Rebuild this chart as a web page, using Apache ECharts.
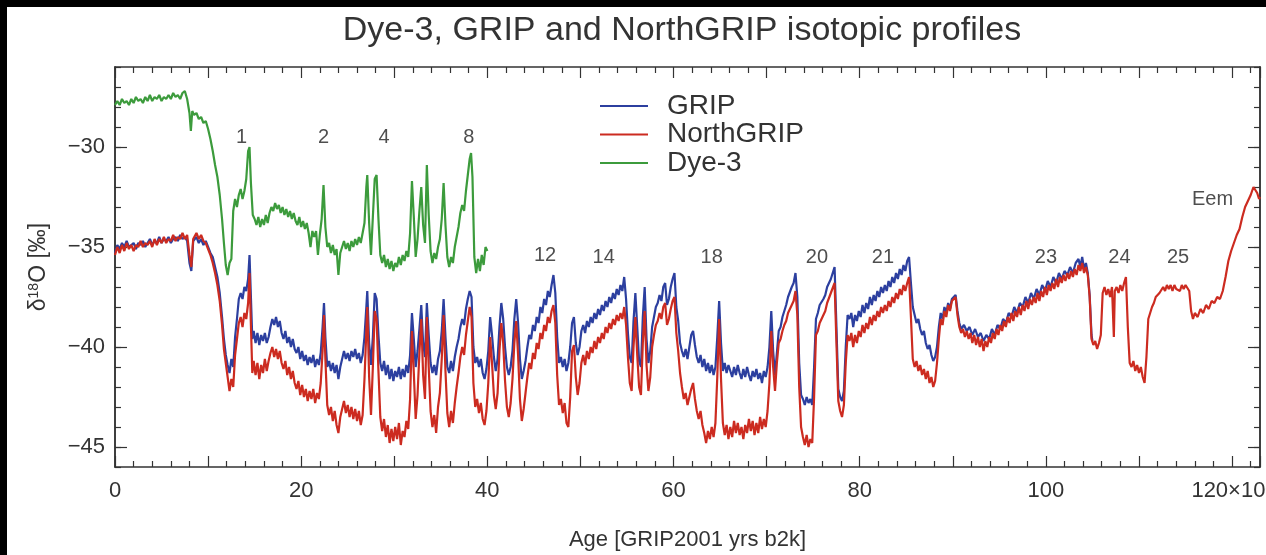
<!DOCTYPE html>
<html>
<head>
<meta charset="utf-8">
<script src="https://cdn.jsdelivr.net/npm/echarts@6/dist/echarts.min.js"></script>
<style>
html,body{margin:0;padding:0;background:#000;width:1266px;height:555px;overflow:hidden}
#c{position:absolute;left:7px;top:7px;width:1259px;height:548px;background:#fff}
</style>
</head>
<body>
<div id="c"></div>
<script>
// ---- DATA (age in kyr b2k, d18O in permil) ----
const gripData = [
[0,-35.3],[0.25,-34.9],[0.5,-35.1],[0.75,-34.8],[1,-35.0],[1.25,-34.7],[1.5,-35.0],[1.75,-34.9],[2,-34.8],[2.25,-35.1],
[2.5,-34.8],[2.75,-34.9],[3,-34.7],[3.25,-35.0],[3.5,-34.8],[3.75,-34.6],[4,-34.9],[4.25,-34.7],[4.5,-34.8],[4.75,-34.5],
[5,-34.8],[5.25,-34.6],[5.5,-34.7],[5.75,-34.5],[6,-34.8],[6.25,-34.6],[6.5,-34.5],[6.75,-34.7],[7,-34.4],[7.25,-34.6],
[7.5,-34.5],[7.75,-34.7],[8.0,-35.8],[8.2,-36.2],[8.4,-34.7],[8.75,-34.5],[9,-34.8],[9.25,-34.6],[9.5,-34.9],[9.75,-34.7],
[10,-35.0],[10.25,-35.3],[10.5,-35.5],[10.75,-36.0],[11,-36.5],[11.25,-37.3],[11.5,-38.5],[11.7,-39.6],[11.9,-40.4],[12.1,-40.9],
[12.3,-41.3],[12.5,-40.6],[12.7,-41.0],[12.9,-39.5],[13.1,-38.6],[13.3,-37.6],[13.5,-37.3],[13.7,-37.6],[13.9,-37.0],[14.1,-37.2],
[14.3,-36.6],[14.45,-35.4],[14.6,-37.5],[14.75,-39.6],[14.9,-39.2],[15.1,-39.8],[15.3,-39.3],[15.5,-39.9],[15.7,-39.4],[15.9,-39.7],
[16.1,-39.3],[16.3,-39.8],[16.5,-39.5],[16.7,-39.0],[16.9,-38.6],[17.1,-38.9],[17.3,-38.5],[17.5,-39.0],[17.7,-38.7],[17.9,-39.3],
[18.1,-39.6],[18.3,-39.2],[18.5,-39.8],[18.7,-39.5],[18.9,-40.0],[19.1,-39.6],[19.3,-40.1],[19.5,-40.3],[19.7,-40.0],[19.9,-40.6],
[20.1,-40.2],[20.3,-40.7],[20.5,-40.4],[20.7,-40.9],[20.9,-40.5],[21.1,-40.8],[21.3,-40.4],[21.5,-41.0],[21.7,-40.6],[21.9,-40.9],
[22.1,-40.3],[22.3,-39.0],[22.45,-37.8],[22.6,-39.5],[22.8,-41.0],[23.0,-40.7],[23.2,-41.2],[23.4,-40.8],[23.6,-41.3],[23.8,-40.9],
[24.0,-41.6],[24.2,-41.0],[24.4,-40.6],[24.6,-40.2],[24.8,-40.6],[25.0,-40.3],[25.2,-40.7],[25.4,-40.2],[25.6,-40.5],[25.8,-40.1],
[26.0,-40.6],[26.2,-40.3],[26.4,-40.8],[26.6,-40.4],[26.8,-39.5],[27.0,-38.0],[27.1,-37.2],[27.3,-39.8],[27.5,-40.9],[27.7,-39.5],
[27.9,-37.3],[28.1,-37.6],[28.3,-39.4],[28.5,-40.8],[28.7,-41.2],[28.9,-40.7],[29.1,-41.4],[29.3,-40.9],[29.5,-41.6],[29.7,-41.1],
[29.9,-41.7],[30.1,-41.2],[30.3,-41.5],[30.5,-41.0],[30.7,-41.6],[30.9,-41.1],[31.1,-41.5],[31.3,-40.9],[31.5,-41.3],[31.7,-40.4],
[31.9,-38.3],[32.1,-39.6],[32.3,-41.0],[32.5,-40.2],[32.7,-39.1],[32.9,-37.9],[33.1,-39.8],[33.3,-40.5],[33.5,-37.8],[33.7,-39.4],
[33.9,-40.8],[34.1,-41.3],[34.3,-40.9],[34.5,-41.4],[34.7,-40.6],[34.9,-40.2],[35.1,-39.2],[35.3,-37.6],[35.5,-39.5],[35.7,-41.0],
[35.9,-41.3],[36.1,-40.7],[36.3,-41.2],[36.5,-40.5],[36.7,-40.0],[36.9,-39.6],[37.1,-39.0],[37.3,-38.6],[37.5,-38.9],[37.7,-38.1],
[37.9,-37.6],[38.1,-37.2],[38.3,-37.5],[38.5,-40.0],[38.7,-40.8],[38.9,-40.5],[39.1,-41.0],[39.3,-40.6],[39.5,-41.3],[39.7,-41.6],
[39.9,-41.1],[40.1,-40.2],[40.3,-38.5],[40.5,-39.4],[40.7,-40.5],[40.9,-41.2],[41.1,-40.6],[41.3,-39.0],[41.5,-37.8],[41.7,-38.6],
[41.9,-40.0],[42.1,-41.0],[42.3,-41.4],[42.5,-41.0],[42.7,-40.2],[42.9,-38.6],[43.1,-37.6],[43.3,-38.8],[43.5,-40.6],[43.7,-41.6],
[43.9,-41.2],[44.1,-40.7],[44.3,-40.0],[44.5,-39.4],[44.7,-39.6],[44.9,-38.9],[45.1,-39.2],[45.3,-38.5],[45.5,-38.8],[45.7,-38.0],
[45.9,-38.3],[46.1,-37.6],[46.3,-37.9],[46.5,-37.2],[46.7,-37.5],[46.9,-36.9],[47.1,-36.4],[47.3,-37.3],[47.5,-39.5],[47.7,-40.8],
[47.9,-40.5],[48.1,-41.0],[48.3,-40.6],[48.5,-41.2],[48.7,-40.8],[48.9,-40.0],[49.1,-38.8],[49.3,-38.5],[49.5,-39.8],[49.7,-40.4],
[49.9,-40.0],[50.1,-39.2],[50.3,-38.9],[50.5,-39.3],[50.7,-38.7],[50.9,-39.0],[51.1,-38.5],[51.3,-38.8],[51.5,-38.3],[51.7,-38.6],
[51.9,-38.1],[52.1,-38.4],[52.3,-37.9],[52.5,-38.2],[52.7,-37.7],[52.9,-38.0],[53.1,-37.5],[53.3,-37.8],[53.5,-37.3],[53.7,-37.6],
[53.9,-37.1],[54.1,-37.4],[54.3,-36.9],[54.5,-37.2],[54.7,-36.5],[54.9,-37.6],[55.1,-39.3],[55.3,-40.5],[55.5,-40.8],[55.7,-38.7],
[55.9,-37.3],[56.1,-39.0],[56.3,-40.7],[56.5,-41.0],[56.7,-38.5],[56.9,-37.0],[57.1,-39.6],[57.3,-40.8],[57.5,-40.2],[57.7,-39.0],
[57.9,-38.5],[58.1,-38.0],[58.3,-37.8],[58.5,-37.4],[58.7,-37.7],[58.9,-37.0],[59.1,-36.8],[59.3,-37.9],[59.5,-37.6],[59.7,-37.0],
[59.9,-36.6],[60.1,-36.3],[60.3,-38.0],[60.5,-38.7],[60.7,-39.8],[60.9,-40.2],[61.1,-40.5],[61.3,-40.1],[61.5,-40.6],[61.7,-40.0],
[61.9,-39.4],[62.1,-39.2],[62.3,-39.9],[62.5,-40.5],[62.7,-40.8],[62.9,-40.4],[63.1,-41.0],[63.3,-40.6],[63.5,-41.2],[63.7,-40.8],
[63.9,-41.3],[64.1,-40.9],[64.3,-41.4],[64.5,-41.0],[64.7,-39.5],[64.9,-37.7],[65.1,-39.8],[65.3,-41.2],[65.5,-40.8],[65.7,-41.3],
[65.9,-40.9],[66.1,-41.2],[66.3,-41.5],[66.5,-41.0],[66.7,-41.4],[66.9,-40.9],[67.1,-41.3],[67.3,-41.6],[67.5,-41.1],[67.7,-41.5],
[67.9,-41.0],[68.1,-41.4],[68.3,-41.7],[68.5,-41.2],[68.7,-41.5],[68.9,-41.1],[69.1,-41.6],[69.3,-41.3],[69.5,-41.8],[69.7,-41.2],
[69.9,-41.5],[70.1,-41.0],[70.3,-40.0],[70.5,-38.2],[70.7,-40.2],[70.9,-41.4],[71.1,-40.3],[71.3,-39.2],[71.5,-39.0],[71.7,-38.5],
[71.9,-38.2],[72.1,-37.9],[72.3,-37.5],[72.5,-37.6],[72.7,-37.0],[72.9,-36.8],[73.1,-36.3],[73.3,-37.5],[73.5,-40.8],[73.7,-42.4],
[73.9,-42.6],[74.1,-42.9],[74.3,-42.5],[74.5,-42.8],[74.7,-42.6],[74.9,-42.9],[75.1,-41.0],[75.3,-38.6],[75.5,-38.3],[75.7,-37.9],
[75.9,-38.0],[76.1,-37.6],[76.3,-37.4],[76.5,-37.0],[76.7,-36.9],[76.9,-36.6],[77.1,-36.5],[77.3,-36.0],[77.5,-39.0],[77.7,-42.1],
[77.9,-42.5],[78.1,-42.7],[78.3,-42.2],[78.5,-40.0],[78.7,-38.4],[78.9,-38.6],[79.1,-38.3],[79.3,-39.0],[79.5,-38.4],[79.7,-38.7],
[79.9,-38.2],[80.1,-38.5],[80.3,-37.9],[80.5,-38.3],[80.7,-37.8],[80.9,-38.1],[81.1,-37.5],[81.3,-37.9],[81.5,-37.4],[81.7,-37.7],
[81.9,-37.2],[82.1,-37.5],[82.3,-37.0],[82.5,-37.3],[82.7,-36.9],[82.9,-37.2],[83.1,-36.7],[83.3,-37.0],[83.5,-36.5],[83.7,-36.8],
[83.9,-36.3],[84.1,-36.6],[84.3,-36.1],[84.5,-36.4],[84.7,-35.9],[84.9,-36.2],[85.1,-35.7],[85.3,-35.5],[85.5,-36.8],[85.7,-38.0],
[85.9,-38.4],[86.1,-38.8],[86.3,-38.6],[86.5,-39.1],[86.7,-39.4],[86.9,-39.2],[87.1,-39.8],[87.3,-40.1],[87.5,-39.9],[87.7,-40.4],
[87.9,-40.7],[88.1,-40.5],[88.3,-40.0],[88.5,-39.0],[88.7,-38.3],[88.9,-38.6],[89.1,-38.0],[89.3,-38.3],[89.5,-37.8],[89.7,-38.1],
[89.9,-37.6],[90.1,-37.5],[90.3,-37.4],[90.5,-38.2],[90.7,-38.8],[90.9,-39.1],[91.2,-38.9],[91.5,-39.2],[91.8,-39.0],[92.1,-39.4],
[92.4,-39.1],[92.7,-39.5],[93.0,-39.3],[93.3,-39.7],[93.6,-39.4],[93.9,-39.6],[94.2,-39.1],[94.5,-39.4],[94.8,-38.9],[95.1,-39.1],
[95.4,-38.6],[95.7,-38.8],[96.0,-38.3],[96.3,-38.5],[96.6,-38.0],[96.9,-38.3],[97.2,-37.8],[97.5,-38.0],[97.8,-37.5],[98.1,-37.8],
[98.4,-37.3],[98.7,-37.6],[99.0,-37.1],[99.3,-37.4],[99.6,-36.9],[99.9,-37.2],[100.2,-36.7],[100.5,-37.0],[100.8,-36.5],[101.1,-36.8],
[101.4,-36.3],[101.7,-36.6],[102.0,-36.2],[102.3,-36.4],[102.6,-36.0],[102.9,-36.3],[103.2,-35.8],[103.5,-35.6],[103.7,-36.0],[103.9,-35.5],
[104.1,-36.1],[104.3,-35.8],[104.5,-36.3],[104.7,-37.4],[104.9,-39.4],[105.0,-39.7]
];

const ngripData = [
[0,-35.4],[0.25,-35.0],[0.5,-35.3],[0.75,-34.9],[1,-35.2],[1.25,-34.8],[1.5,-35.1],[1.75,-34.9],[2,-35.2],[2.25,-34.9],
[2.5,-35.0],[2.75,-34.7],[3,-35.0],[3.25,-34.8],[3.5,-34.9],[3.75,-34.7],[4,-35.0],[4.25,-34.6],[4.5,-34.9],[4.75,-34.6],
[5,-34.8],[5.25,-34.5],[5.5,-34.8],[5.75,-34.6],[6,-34.7],[6.25,-34.4],[6.5,-34.7],[6.75,-34.5],[7,-34.6],[7.25,-34.3],
[7.5,-34.6],[7.75,-34.4],[8.0,-35.4],[8.2,-36.0],[8.4,-34.6],[8.75,-34.3],[9,-34.6],[9.25,-34.4],[9.5,-34.7],[9.75,-34.8],
[10,-35.1],[10.25,-35.4],[10.5,-35.8],[10.75,-36.3],[11,-36.9],[11.25,-37.7],[11.5,-38.9],[11.7,-40.1],[11.9,-40.8],[12.1,-41.5],
[12.3,-42.2],[12.5,-41.6],[12.7,-42.0],[12.9,-40.4],[13.1,-39.6],[13.3,-38.8],[13.5,-38.5],[13.7,-39.0],[13.9,-38.3],[14.1,-38.6],
[14.3,-37.8],[14.45,-36.3],[14.6,-38.9],[14.75,-41.3],[14.9,-40.7],[15.1,-41.4],[15.3,-40.8],[15.5,-41.6],[15.7,-40.9],[15.9,-41.3],
[16.1,-40.6],[16.3,-41.2],[16.5,-40.7],[16.7,-40.3],[16.9,-40.0],[17.1,-40.5],[17.3,-40.1],[17.5,-40.6],[17.7,-40.2],[17.9,-40.8],
[18.1,-41.1],[18.3,-40.7],[18.5,-41.4],[18.7,-41.0],[18.9,-41.6],[19.1,-41.2],[19.3,-41.8],[19.5,-42.1],[19.7,-41.7],[19.9,-42.4],
[20.1,-41.9],[20.3,-42.5],[20.5,-42.1],[20.7,-42.7],[20.9,-42.2],[21.1,-42.6],[21.3,-42.1],[21.5,-42.8],[21.7,-42.3],[21.9,-42.6],
[22.1,-41.8],[22.3,-40.2],[22.45,-38.4],[22.6,-40.6],[22.8,-42.9],[23.0,-43.4],[23.2,-43.0],[23.4,-43.7],[23.6,-43.2],[23.8,-43.9],
[24.0,-44.3],[24.2,-43.5],[24.4,-43.1],[24.6,-42.7],[24.8,-43.3],[25.0,-42.9],[25.2,-43.5],[25.4,-43.0],[25.6,-43.6],[25.8,-43.1],
[26.0,-43.7],[26.2,-43.2],[26.4,-43.9],[26.6,-43.4],[26.8,-41.6],[27.0,-39.2],[27.1,-38.0],[27.3,-41.5],[27.5,-43.4],[27.7,-41.0],
[27.9,-38.2],[28.1,-38.6],[28.3,-41.2],[28.5,-43.5],[28.7,-44.2],[28.9,-43.6],[29.1,-44.5],[29.3,-43.9],[29.5,-44.8],[29.7,-44.1],
[29.9,-44.7],[30.1,-44.0],[30.3,-44.6],[30.5,-43.8],[30.7,-44.9],[30.9,-44.2],[31.1,-44.5],[31.3,-43.7],[31.5,-44.1],[31.7,-42.6],
[31.9,-39.2],[32.1,-41.3],[32.3,-43.6],[32.5,-42.4],[32.7,-40.3],[32.9,-38.6],[33.1,-41.4],[33.3,-42.6],[33.5,-38.5],[33.7,-41.0],
[33.9,-43.2],[34.1,-44.0],[34.3,-43.4],[34.5,-44.3],[34.7,-43.0],[34.9,-42.3],[35.1,-40.6],[35.3,-38.4],[35.5,-41.2],[35.7,-43.3],
[35.9,-44.0],[36.1,-43.2],[36.3,-43.8],[36.5,-42.8],[36.7,-42.0],[36.9,-41.3],[37.1,-40.5],[37.3,-40.0],[37.5,-40.4],[37.7,-39.4],
[37.9,-38.7],[38.1,-38.0],[38.3,-38.5],[38.5,-41.8],[38.7,-43.0],[38.9,-42.6],[39.1,-43.3],[39.3,-42.8],[39.5,-43.6],[39.7,-43.9],
[39.9,-43.2],[40.1,-41.8],[40.3,-39.5],[40.5,-40.8],[40.7,-42.4],[40.9,-43.1],[41.1,-42.3],[41.3,-40.2],[41.5,-38.8],[41.7,-39.8],
[41.9,-41.7],[42.1,-43.0],[42.3,-43.5],[42.5,-42.8],[42.7,-41.6],[42.9,-39.8],[43.1,-38.7],[43.3,-40.4],[43.5,-42.6],[43.7,-43.7],
[43.9,-43.1],[44.1,-42.3],[44.3,-41.5],[44.5,-40.8],[44.7,-41.1],[44.9,-40.3],[45.1,-40.6],[45.3,-39.8],[45.5,-40.1],[45.7,-39.3],
[45.9,-39.6],[46.1,-38.9],[46.3,-39.2],[46.5,-38.5],[46.7,-38.8],[46.9,-38.2],[47.1,-37.9],[47.3,-38.8],[47.5,-41.4],[47.7,-42.9],
[47.9,-42.6],[48.1,-43.3],[48.3,-42.8],[48.5,-43.8],[48.7,-44.0],[48.9,-42.5],[49.1,-40.2],[49.3,-39.9],[49.5,-41.5],[49.7,-42.4],
[49.9,-41.8],[50.1,-40.8],[50.3,-40.4],[50.5,-40.9],[50.7,-40.2],[50.9,-40.6],[51.1,-40.0],[51.3,-40.3],[51.5,-39.7],[51.7,-40.1],
[51.9,-39.5],[52.1,-39.8],[52.3,-39.3],[52.5,-39.6],[52.7,-39.0],[52.9,-39.3],[53.1,-38.8],[53.3,-39.1],[53.5,-38.6],[53.7,-38.9],
[53.9,-38.4],[54.1,-38.7],[54.3,-38.3],[54.5,-38.6],[54.7,-38.0],[54.9,-38.9],[55.1,-40.5],[55.3,-41.8],[55.5,-42.2],[55.7,-40.0],
[55.9,-38.5],[56.1,-40.4],[56.3,-42.0],[56.5,-42.4],[56.7,-39.8],[56.9,-38.2],[57.1,-40.9],[57.3,-42.2],[57.5,-41.5],[57.7,-40.0],
[57.9,-39.4],[58.1,-38.9],[58.3,-38.7],[58.5,-38.3],[58.7,-38.6],[58.9,-38.0],[59.1,-37.8],[59.3,-38.9],[59.5,-38.6],[59.7,-38.1],
[59.9,-37.7],[60.1,-37.5],[60.3,-39.3],[60.5,-40.2],[60.7,-41.3],[60.9,-42.0],[61.1,-42.6],[61.3,-42.3],[61.5,-42.9],[61.7,-42.5],
[61.9,-42.1],[62.1,-41.8],[62.3,-42.6],[62.5,-43.2],[62.7,-43.6],[62.9,-43.2],[63.1,-43.9],[63.3,-44.3],[63.5,-44.8],[63.7,-44.2],
[63.9,-44.6],[64.1,-44.0],[64.3,-44.5],[64.5,-43.8],[64.7,-41.5],[64.9,-38.6],[65.1,-41.6],[65.3,-43.8],[65.5,-44.4],[65.7,-43.9],
[65.9,-44.6],[66.1,-44.0],[66.3,-44.5],[66.5,-43.7],[66.7,-44.3],[66.9,-43.8],[67.1,-44.4],[67.3,-44.0],[67.5,-44.6],[67.7,-43.9],
[67.9,-44.3],[68.1,-43.6],[68.3,-44.2],[68.5,-43.7],[68.7,-44.4],[68.9,-43.8],[69.1,-44.3],[69.3,-43.5],[69.5,-44.1],[69.7,-43.6],
[69.9,-44.0],[70.1,-43.2],[70.3,-41.8],[70.5,-39.2],[70.7,-41.0],[70.9,-42.2],[71.1,-40.8],[71.3,-39.8],[71.5,-39.6],[71.7,-39.2],
[71.9,-38.9],[72.1,-38.7],[72.3,-38.3],[72.5,-38.4],[72.7,-37.9],[72.9,-37.7],[73.1,-37.2],[73.3,-38.4],[73.5,-42.0],[73.7,-44.0],
[73.9,-44.5],[74.1,-44.9],[74.3,-44.4],[74.5,-45.0],[74.7,-44.6],[74.9,-44.8],[75.1,-42.5],[75.3,-39.4],[75.5,-39.2],[75.7,-38.8],
[75.9,-38.9],[76.1,-38.4],[76.3,-38.2],[76.5,-37.8],[76.7,-37.7],[76.9,-37.3],[77.1,-37.2],[77.3,-36.8],[77.5,-39.8],[77.7,-42.7],
[77.9,-43.2],[78.1,-43.5],[78.3,-42.9],[78.5,-40.8],[78.7,-39.4],[78.9,-39.7],[79.1,-39.3],[79.3,-40.0],[79.5,-39.4],[79.7,-39.8],
[79.9,-39.2],[80.1,-39.5],[80.3,-38.9],[80.5,-39.3],[80.7,-38.8],[80.9,-39.1],[81.1,-38.5],[81.3,-38.9],[81.5,-38.4],[81.7,-38.7],
[81.9,-38.2],[82.1,-38.5],[82.3,-38.0],[82.5,-38.3],[82.7,-37.9],[82.9,-38.2],[83.1,-37.7],[83.3,-38.0],[83.5,-37.5],[83.7,-37.8],
[83.9,-37.3],[84.1,-37.6],[84.3,-37.1],[84.5,-37.4],[84.7,-36.9],[84.9,-37.2],[85.1,-36.8],[85.3,-36.5],[85.5,-38.5],[85.7,-40.6],
[85.9,-41.0],[86.1,-40.7],[86.3,-41.2],[86.5,-40.9],[86.7,-41.4],[86.9,-41.1],[87.1,-41.6],[87.3,-41.2],[87.5,-41.8],[87.7,-41.5],
[87.9,-42.0],[88.1,-41.7],[88.3,-40.8],[88.5,-39.6],[88.7,-38.6],[88.9,-38.9],[89.1,-38.2],[89.3,-38.5],[89.5,-37.9],[89.7,-38.2],
[89.9,-37.7],[90.1,-37.6],[90.3,-37.5],[90.5,-38.4],[90.7,-39.0],[90.9,-39.3],[91.1,-39.1],[91.3,-39.5],[91.5,-39.2],[91.7,-39.6],
[91.9,-39.3],[92.1,-39.8],[92.3,-39.4],[92.5,-39.9],[92.7,-39.5],[92.9,-40.0],[93.1,-39.6],[93.3,-40.2],[93.5,-39.7],[93.7,-40.0],
[93.9,-39.5],[94.1,-39.8],[94.3,-39.3],[94.5,-39.6],[94.7,-39.1],[94.9,-39.4],[95.1,-38.9],[95.3,-39.2],[95.5,-38.7],[95.7,-39.0],
[95.9,-38.5],[96.1,-38.8],[96.3,-38.3],[96.5,-38.7],[96.7,-38.2],[96.9,-38.5],[97.1,-38.0],[97.3,-38.4],[97.5,-37.9],[97.7,-38.2],
[97.9,-37.7],[98.1,-38.1],[98.3,-37.6],[98.5,-37.9],[98.7,-37.5],[98.9,-37.8],[99.1,-37.3],[99.3,-37.7],[99.5,-37.2],[99.7,-37.5],
[99.9,-37.0],[100.1,-37.4],[100.3,-36.9],[100.5,-37.2],[100.7,-36.8],[100.9,-37.1],[101.1,-36.6],[101.3,-37.0],[101.5,-36.5],[101.7,-36.8],
[101.9,-36.4],[102.1,-36.7],[102.3,-36.3],[102.5,-36.6],[102.7,-36.2],[102.9,-36.5],[103.1,-36.1],[103.3,-36.4],[103.5,-35.9],[103.7,-36.2],
[103.9,-35.8],[104.1,-36.3],[104.3,-36.0],[104.5,-36.4],[104.7,-37.5],[104.9,-39.6],[105.1,-39.9],[105.3,-39.7],[105.5,-40.1],[105.7,-39.8],
[105.9,-39.4],[106.1,-37.3],[106.3,-37.0],[106.5,-37.4],[106.7,-37.1],[106.9,-37.5],[107.1,-37.0],[107.3,-39.5],[107.4,-37.2],[107.6,-37.0],
[107.8,-37.3],[108.0,-36.9],[108.2,-37.2],[108.4,-36.8],[108.6,-36.5],[108.8,-39.0],[109.0,-40.8],[109.2,-41.0],[109.4,-40.7],[109.6,-41.2],
[109.8,-40.9],[110.0,-41.3],[110.2,-41.0],[110.4,-41.5],[110.6,-41.8],[110.8,-40.5],[111.0,-38.6],[111.2,-38.3],[111.4,-38.0],[111.6,-37.8],
[111.8,-37.5],[112.0,-37.6],[112.2,-37.3],[112.4,-37.2],[112.6,-37.0],[112.8,-37.2],[113.0,-36.9],[113.2,-37.1],[113.4,-36.9],[113.6,-37.2],
[113.8,-36.9],[114.0,-37.1],[114.2,-37.0],[114.4,-37.2],[114.6,-36.9],[114.8,-37.1],[115.0,-36.9],[115.2,-37.0],[115.4,-37.2],[115.6,-38.2],
[115.8,-38.6],[116.0,-38.3],[116.3,-38.5],[116.6,-38.1],[116.9,-38.3],[117.2,-37.9],[117.5,-38.1],[117.8,-37.7],[118.1,-37.8],[118.4,-37.5],
[118.7,-37.6],[119.0,-37.2],[119.3,-36.5],[119.6,-35.7],[119.9,-35.2],[120.2,-34.8],[120.5,-34.4],[120.8,-34.1],[121.1,-33.5],[121.4,-33.0],
[121.7,-32.7],[122.0,-32.4],[122.3,-32.0],[122.5,-31.9],[122.7,-32.3],[122.9,-32.6],[123.0,-32.5]
];

const dye3Data = [
[0,-27.9],[0.25,-27.7],[0.5,-27.9],[0.75,-27.6],[1,-27.8],[1.25,-27.7],[1.5,-27.9],[1.75,-27.6],[2,-27.8],[2.25,-27.5],
[2.5,-27.7],[2.75,-27.6],[3,-27.8],[3.25,-27.5],[3.5,-27.7],[3.75,-27.4],[4,-27.7],[4.25,-27.5],[4.5,-27.6],[4.75,-27.4],
[5,-27.7],[5.25,-27.5],[5.5,-27.6],[5.75,-27.4],[6,-27.6],[6.25,-27.3],[6.5,-27.5],[6.75,-27.4],[7,-27.6],[7.25,-27.3],
[7.5,-27.2],[7.75,-27.6],[8.0,-28.3],[8.15,-29.2],[8.3,-28.2],[8.5,-28.4],[8.75,-28.3],[9,-28.6],[9.25,-28.5],[9.5,-28.8],
[9.75,-28.7],[10,-29.1],[10.25,-29.6],[10.5,-30.2],[10.75,-30.9],[11,-31.5],[11.25,-32.4],[11.5,-33.6],[11.7,-34.8],[11.9,-35.9],
[12.1,-36.4],[12.3,-35.8],[12.5,-35.6],[12.7,-33.2],[12.9,-32.6],[13.1,-33.0],[13.3,-32.4],[13.5,-32.1],[13.7,-32.6],[13.9,-32.2],
[14.1,-31.6],[14.3,-30.2],[14.45,-30.0],[14.6,-31.8],[14.8,-33.4],[15.0,-33.6],[15.2,-33.9],[15.4,-33.5],[15.6,-34.0],[15.8,-33.6],
[16.0,-33.9],[16.2,-33.4],[16.4,-33.8],[16.6,-33.3],[16.8,-33.0],[17.0,-33.2],[17.2,-32.8],[17.4,-33.1],[17.6,-32.9],[17.8,-33.3],
[18.0,-33.0],[18.2,-33.4],[18.4,-33.1],[18.6,-33.5],[18.8,-33.2],[19.0,-33.6],[19.2,-33.3],[19.4,-33.7],[19.6,-33.9],[19.8,-33.5],
[20.0,-34.0],[20.2,-33.7],[20.4,-34.1],[20.6,-33.8],[20.8,-34.3],[21.0,-35.0],[21.2,-34.2],[21.4,-34.5],[21.6,-34.2],[21.8,-35.4],
[22.0,-34.4],[22.2,-33.6],[22.4,-31.9],[22.6,-34.0],[22.8,-35.0],[23.0,-34.8],[23.2,-35.3],[23.4,-34.9],[23.6,-35.4],[23.8,-35.1],
[24.0,-36.4],[24.2,-35.3],[24.4,-35.0],[24.6,-34.7],[24.8,-35.1],[25.0,-34.8],[25.2,-35.2],[25.4,-34.7],[25.6,-35.0],[25.8,-34.6],
[26.0,-34.9],[26.2,-34.5],[26.4,-34.8],[26.6,-34.3],[26.8,-33.8],[27.0,-32.0],[27.1,-31.4],[27.3,-33.8],[27.5,-35.4],[27.7,-33.5],
[27.9,-31.6],[28.1,-31.4],[28.3,-33.6],[28.5,-35.4],[28.7,-35.8],[28.9,-35.4],[29.1,-36.0],[29.3,-35.6],[29.5,-36.1],[29.7,-35.7],
[29.9,-36.2],[30.1,-35.8],[30.3,-36.0],[30.5,-35.5],[30.7,-35.9],[30.9,-35.4],[31.1,-35.7],[31.3,-35.2],[31.5,-35.5],[31.7,-34.3],
[31.9,-31.7],[32.1,-33.5],[32.3,-35.5],[32.5,-34.6],[32.7,-33.2],[32.9,-32.0],[33.1,-33.9],[33.3,-34.8],[33.5,-30.9],[33.7,-33.4],
[33.9,-35.2],[34.1,-35.8],[34.3,-35.3],[34.5,-35.6],[34.7,-35.0],[34.9,-34.6],[35.1,-33.6],[35.3,-31.8],[35.5,-33.9],[35.7,-35.5],
[35.9,-36.0],[36.1,-35.5],[36.3,-35.8],[36.5,-35.0],[36.7,-34.5],[36.9,-34.0],[37.1,-33.3],[37.3,-32.9],[37.5,-33.2],[37.7,-32.2],
[37.9,-31.4],[38.1,-30.6],[38.25,-30.3],[38.4,-31.5],[38.6,-35.5],[38.8,-36.3],[39.0,-35.6],[39.2,-36.2],[39.4,-35.4],[39.6,-35.9],
[39.8,-35.0],[40.0,-35.2]
];

// Interstadial / event annotations: [age, d18O position, label]
const eventAges   = [13.6, 22.4, 28.9, 38.0, 46.2, 52.5, 64.1, 75.4, 82.5, 100.0, 107.9, 114.2, 117.9];
const eventLevels = [-29.5, -29.5, -29.5, -29.5, -35.4, -35.5, -35.5, -35.5, -35.5, -35.5, -35.5, -35.5, -32.6];
const eventNames  = ['1', '2', '4', '8', '12', '14', '18', '20', '21', '23', '24', '25', 'Eem'];

const xLabelTicks = [0, 20, 40, 60, 80, 100, 120];
const yLabelTicks = [-45, -40, -35, -30];
const seriesNames = ['GRIP', 'NorthGRIP', 'Dye-3'];

// ---- CHART ----
const FONT = '"Liberation Sans", Arial, Helvetica, sans-serif';
const INK = '#333';
const chart = echarts.init(document.getElementById('c'), null, {renderer: 'canvas'});

const eventData = eventAges.map((a, i) => ({value: [a, eventLevels[i]], name: eventNames[i]}));

const xBase = {
  type: 'value', min: 0, max: 123, interval: 10,
  axisLine: {show: true, lineStyle: {color: INK, width: 1.5}},
  axisTick: {show: true, inside: true, length: 11, lineStyle: {color: INK, width: 1.2}},
  minorTick: {show: true, splitNumber: 5, length: 6, lineStyle: {color: INK, width: 1.2}},
  splitLine: {show: false}, minorSplitLine: {show: false}
};
const yMinor = {
  type: 'value', min: -46, max: -26, interval: 1,
  axisLine: {show: true, lineStyle: {color: INK, width: 1.5}},
  axisTick: {show: true, inside: true, length: 6, lineStyle: {color: INK, width: 1.2}},
  axisLabel: {show: false}, splitLine: {show: false}
};
const yMajor = {
  type: 'value', min: -46, max: -26,
  axisLine: {show: true, lineStyle: {color: INK, width: 1.5}},
  axisTick: {show: true, inside: true, length: 12, customValues: yLabelTicks, lineStyle: {color: INK, width: 1.2}},
  splitLine: {show: false}
};

const option = {
  animation: false,
  backgroundColor: '#fff',
  textStyle: {fontFamily: FONT},
  title: {
    text: 'Dye-3, GRIP and NorthGRIP isotopic profiles',
    left: 675, top: 7, padding: 0, textAlign: 'center',
    textStyle: {fontSize: 34, fontWeight: 'normal', color: INK, fontFamily: FONT}
  },
  legend: {
    data: seriesNames,
    orient: 'vertical', left: 593, top: 85, padding: 0, itemGap: 0.5,
    icon: 'rect', itemWidth: 48, itemHeight: 2,
    textStyle: {fontSize: 28, lineHeight: 26, color: INK, fontFamily: FONT, padding: [0, 0, 0, 14]},
    selectedMode: false
  },
  grid: {left: 108, right: 6, top: 60, bottom: 88, outerBoundsMode: 'none', containLabel: false},
  xAxis: [
    Object.assign({}, xBase, {
      position: 'bottom',
      axisLabel: {
        show: true, margin: 13, fontSize: 22, color: INK, fontFamily: FONT,
        formatter: v => xLabelTicks.indexOf(v) >= 0 ? (v === 120 ? '120\u00d710\u00b3' : String(v)) : ''
      },
      name: 'Age [GRIP2001 yrs b2k]', nameLocation: 'middle', nameGap: 62,
      nameTextStyle: {fontSize: 22, color: INK, fontFamily: FONT}
    }),
    Object.assign({}, xBase, {position: 'top', axisLabel: {show: false}})
  ],
  yAxis: [
    Object.assign({}, yMinor, {
      position: 'left',
      name: '{d|\u03b4}{s|18}{d|O [\u2030]}', nameLocation: 'middle', nameRotate: 90, nameGap: 64,
      nameTextStyle: {
        color: INK, fontFamily: FONT,
        rich: {
          d: {fontSize: 23, color: INK, fontFamily: FONT},
          s: {fontSize: 14, color: INK, fontFamily: FONT, verticalAlign: 'bottom', padding: [0, 0, 10, 0]}
        }
      }
    }),
    Object.assign({}, yMajor, {
      position: 'left',
      axisLabel: {show: true, customValues: yLabelTicks, margin: 10, fontSize: 22, color: INK, fontFamily: FONT,
        formatter: v => '\u2212' + Math.abs(v)}
    }),
    Object.assign({}, yMinor, {position: 'right'}),
    Object.assign({}, yMajor, {position: 'right', axisLabel: {show: false}})
  ],
  series: [
    {name: 'GRIP', type: 'line', data: gripData, xAxisIndex: 0, yAxisIndex: 0, symbol: 'none',
     lineStyle: {color: '#2c3f9f', width: 2.2}, itemStyle: {color: '#2c3f9f'}, z: 2},
    {name: 'NorthGRIP', type: 'line', data: ngripData, xAxisIndex: 0, yAxisIndex: 0, symbol: 'none',
     lineStyle: {color: '#cc2b20', width: 2.2}, itemStyle: {color: '#cc2b20'}, z: 3},
    {name: 'Dye-3', type: 'line', data: dye3Data, xAxisIndex: 0, yAxisIndex: 0, symbol: 'none',
     lineStyle: {color: '#3c9b3c', width: 2.2}, itemStyle: {color: '#3c9b3c'}, z: 4},
    {name: 'events', type: 'scatter', data: eventData, xAxisIndex: 0, yAxisIndex: 0,
     symbolSize: 0, silent: true, z: 5,
     label: {show: true, position: 'inside', formatter: p => p.name, fontSize: 20, color: '#222', fontFamily: FONT}}
  ]
};
chart.setOption(option);
</script>
</body>
</html>
